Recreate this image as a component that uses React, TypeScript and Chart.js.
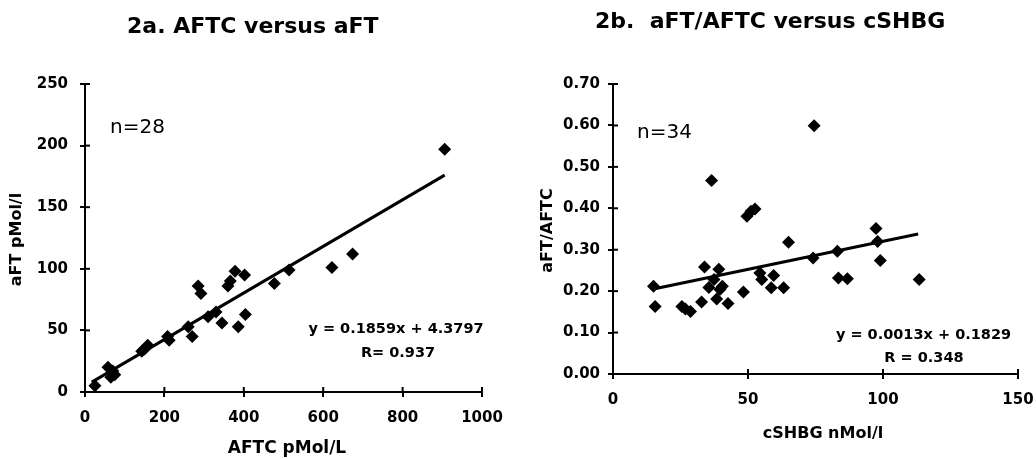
import React, { useEffect, useRef } from "react";
import { Chart, registerables } from "chart.js";

Chart.register(...registerables);

// ---- Chart 2a data: AFTC (x) vs aFT (y) ----
const aftcValues = [25, 58, 65, 70, 75, 143, 150, 158, 208, 212, 260, 270, 285, 292, 310, 330, 345, 360, 366, 378, 386, 402, 404, 477, 514, 622, 674, 906];
const aftValues = [5, 20, 12, 17, 14, 33, 35, 38, 45, 42, 53, 45, 86, 80, 61, 65, 56, 86, 90, 98, 53, 95, 63, 88, 99, 101, 112, 197];
const leftTrendX = [17, 906];
const leftTrendY = [8, 176];
const leftXTicks = [0, 200, 400, 600, 800, 1000];
const leftYTicks = [0, 50, 100, 150, 200, 250];

// ---- Chart 2b data: cSHBG (x) vs aFT/AFTC (y) ----
const shbgValues = [15, 15.6, 25.5, 26.8, 28.7, 32.8, 33.9, 35.5, 36.5, 37.4, 38.4, 39.2, 39.6, 40.5, 42.6, 48.3, 49.6, 51.1, 52.6, 54.4, 55.1, 58.6, 59.5, 63.2, 65, 74.5, 74.1, 83.1, 83.5, 86.8, 97.4, 98, 99, 113.4];
const ratioValues = [0.212, 0.163, 0.163, 0.157, 0.151, 0.174, 0.258, 0.209, 0.467, 0.228, 0.181, 0.253, 0.204, 0.212, 0.17, 0.198, 0.381, 0.393, 0.398, 0.244, 0.228, 0.208, 0.238, 0.208, 0.318, 0.599, 0.28, 0.296, 0.232, 0.23, 0.351, 0.32, 0.274, 0.228];
const rightTrendX = [15, 113];
const rightTrendY = [0.205, 0.338];
const rightXTicks = [0, 50, 100, 150];
const rightYTicks = [0, 0.1, 0.2, 0.3, 0.4, 0.5, 0.6, 0.7];

const FONT = "'DejaVu Sans', 'Liberation Sans', Arial, sans-serif";

type TextItem = {
  text: string;
  x: number;
  y: number;
  size: number;
  bold?: boolean;
  align?: CanvasTextAlign;
  rotate?: boolean;
};

const innerTicksPlugin = {
  id: "innerTicks",
  afterDraw(chart: any) {
    const { ctx, chartArea, scales } = chart;
    const x = scales.x;
    const y = scales.y;
    ctx.save();
    ctx.strokeStyle = "#000";
    ctx.lineWidth = 2;
    x.ticks.forEach((t: any) => {
      const px = x.getPixelForValue(t.value);
      ctx.beginPath();
      ctx.moveTo(px, chartArea.bottom);
      ctx.lineTo(px, chartArea.bottom - 5);
      ctx.stroke();
    });
    y.ticks.forEach((t: any) => {
      const py = y.getPixelForValue(t.value);
      ctx.beginPath();
      ctx.moveTo(chartArea.left, py);
      ctx.lineTo(chartArea.left + 5, py);
      ctx.stroke();
    });
    ctx.restore();
  },
};

const textPlugin = {
  id: "texts",
  afterDraw(chart: any) {
    const items: TextItem[] = chart.options.plugins.texts?.items || [];
    const ctx = chart.ctx;
    ctx.save();
    ctx.fillStyle = "#000";
    ctx.textBaseline = "alphabetic";
    items.forEach((it) => {
      ctx.font = `${it.bold === false ? "normal" : "bold"} ${it.size}px ${FONT}`;
      ctx.textAlign = it.align || "center";
      if (it.rotate) {
        ctx.save();
        ctx.translate(it.x, it.y);
        ctx.rotate(-Math.PI / 2);
        ctx.fillText(it.text, 0, 0);
        ctx.restore();
      } else {
        ctx.fillText(it.text, it.x, it.y);
      }
    });
    ctx.restore();
  },
};

function makeConfig(opts: {
  xs: number[];
  ys: number[];
  tx: number[];
  ty: number[];
  xTicks: number[];
  yTicks: number[];
  yFmt: (v: number) => string;
  padRight: number;
  yWidth: number;
  xHeight: number;
  yPad: number;
  texts: TextItem[];
}) {
  const points = opts.xs.map((x, i) => ({ x, y: opts.ys[i] }));
  const trend = opts.tx.map((x, i) => ({ x, y: opts.ty[i] }));
  const xMin = opts.xTicks[0];
  const xMax = opts.xTicks[opts.xTicks.length - 1];
  const yMin = opts.yTicks[0];
  const yMax = opts.yTicks[opts.yTicks.length - 1];
  const tickFont = { family: FONT, size: 15, weight: "bold" as const };
  return {
    type: "scatter" as const,
    data: {
      datasets: [
        {
          data: trend,
          showLine: true,
          borderColor: "#000",
          borderWidth: 3,
          pointRadius: 0,
          fill: false,
        },
        {
          data: points,
          pointStyle: "rectRot",
          pointRadius: 6.5,
          pointBackgroundColor: "#000",
          pointBorderColor: "#000",
          pointBorderWidth: 0,
        },
      ],
    },
    options: {
      responsive: false,
      animation: false,
      devicePixelRatio: 1,
      layout: { padding: { left: 0, top: 84, right: opts.padRight, bottom: 0 } },
      plugins: {
        legend: { display: false },
        tooltip: { enabled: false },
        title: { display: false },
        texts: { items: opts.texts },
      },
      scales: {
        x: {
          type: "linear",
          min: xMin,
          max: xMax,
          afterBuildTicks: (s: any) => {
            s.ticks = opts.xTicks.map((v) => ({ value: v }));
          },
          afterFit: (s: any) => {
            s.height = opts.xHeight;
            s.paddingLeft = 0;
            s.paddingRight = 0;
          },
          grid: {
            display: true,
            drawOnChartArea: false,
            drawTicks: true,
            tickLength: 5,
            color: "#000",
            lineWidth: 2,
          },
          border: { display: true, color: "#000", width: 2 },
          ticks: {
            color: "#000",
            font: tickFont,
            padding: 12,
            maxRotation: 0,
            autoSkip: false,
            callback: (v: any) => String(v),
          },
        },
        y: {
          type: "linear",
          min: yMin,
          max: yMax,
          afterBuildTicks: (s: any) => {
            s.ticks = opts.yTicks.map((v) => ({ value: v }));
          },
          afterFit: (s: any) => {
            s.width = opts.yWidth;
            s.paddingTop = 0;
            s.paddingBottom = 0;
          },
          grid: {
            display: true,
            drawOnChartArea: false,
            drawTicks: true,
            tickLength: 5,
            color: "#000",
            lineWidth: 2,
          },
          border: { display: true, color: "#000", width: 2 },
          ticks: {
            color: "#000",
            font: tickFont,
            padding: opts.yPad,
            autoSkip: false,
            callback: (v: any) => opts.yFmt(Number(v)),
          },
        },
      },
    },
    plugins: [innerTicksPlugin, textPlugin],
  };
}

function ChartCanvas({ config, width, height }: { config: any; width: number; height: number }) {
  const ref = useRef<HTMLCanvasElement | null>(null);
  useEffect(() => {
    if (!ref.current) return;
    const chart = new Chart(ref.current, config);
    return () => chart.destroy();
  }, [config]);
  return <canvas ref={ref} width={width} height={height} style={{ display: "block", width, height }} />;
}

const leftConfig = makeConfig({
  xs: aftcValues,
  ys: aftValues,
  tx: leftTrendX,
  ty: leftTrendY,
  xTicks: leftXTicks,
  yTicks: leftYTicks,
  yFmt: (v) => String(v),
  padRight: 36,
  yWidth: 85,
  xHeight: 67,
  yPad: 12,
  texts: [
    { text: "2a. AFTC versus aFT", x: 127, y: 32.5, size: 22, align: "left" },
    { text: "AFTC pMol/L", x: 287, y: 453, size: 17 },
    { text: "aFT pMol/l", x: 21, y: 239.5, size: 16, rotate: true },
    { text: "n=28", x: 110, y: 133, size: 20, bold: false, align: "left" },
    { text: "y = 0.1859x + 4.3797", x: 396, y: 332.5, size: 14.5 },
    { text: "R= 0.937", x: 398, y: 356.5, size: 14.5 },
  ],
});

const rightConfig = makeConfig({
  xs: shbgValues,
  ys: ratioValues,
  tx: rightTrendX,
  ty: rightTrendY,
  xTicks: rightXTicks,
  yTicks: rightYTicks,
  yFmt: (v) => v.toFixed(2),
  padRight: 18,
  yWidth: 95,
  xHeight: 85,
  yPad: 8,
  texts: [
    { text: "2b.  aFT/AFTC versus cSHBG", x: 77, y: 28, size: 22, align: "left" },
    { text: "cSHBG nMol/l", x: 305, y: 438, size: 16 },
    { text: "aFT/AFTC", x: 34, y: 230.5, size: 16, rotate: true },
    { text: "n=34", x: 119, y: 137.5, size: 20, bold: false, align: "left" },
    { text: "y = 0.0013x + 0.1829", x: 405.5, y: 339, size: 14.5 },
    { text: "R = 0.348", x: 406, y: 361.5, size: 14.5 },
  ],
});

export default function App() {
  return (
    <div style={{ position: "absolute", left: 0, top: 0, width: 1036, height: 459, background: "#fff" }}>
      <div style={{ position: "absolute", left: 0, top: 0 }}>
        <ChartCanvas config={leftConfig} width={518} height={459} />
      </div>
      <div style={{ position: "absolute", left: 518, top: 0 }}>
        <ChartCanvas config={rightConfig} width={518} height={459} />
      </div>
    </div>
  );
}
